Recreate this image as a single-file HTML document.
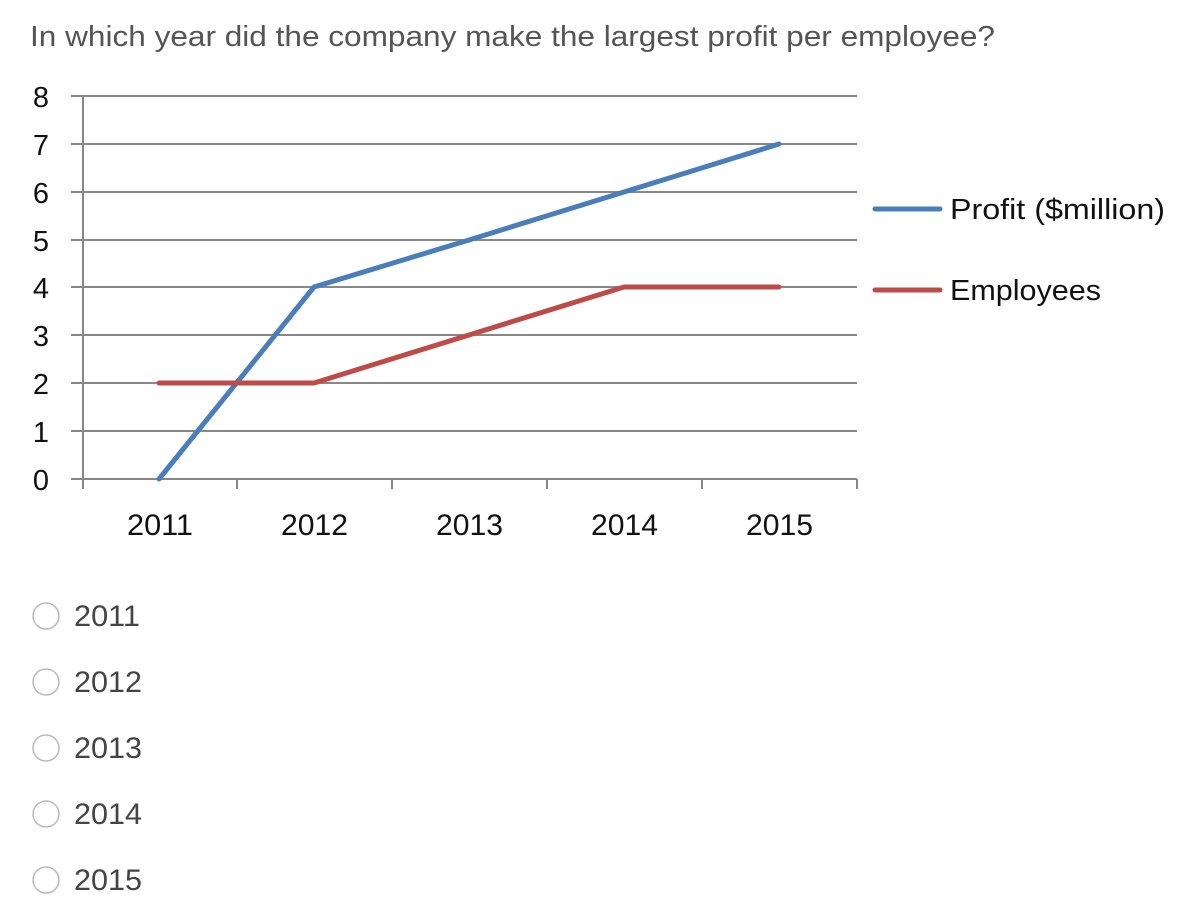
<!DOCTYPE html>
<html><head><style>
body{margin:0;background:#fff;width:1192px;height:918px;overflow:hidden;font-family:"Liberation Sans",sans-serif;}
</style></head><body>
<svg width="1192" height="918" xmlns="http://www.w3.org/2000/svg" style="position:absolute;left:0;top:0">
<text x="30" y="46" font-size="29" fill="#555" font-family="Liberation Sans, sans-serif" textLength="965" lengthAdjust="spacingAndGlyphs">In which year did the company make the largest profit per employee?</text>
<g stroke="#888" stroke-width="2">
<line x1="71" y1="96" x2="857" y2="96"/>
<line x1="71" y1="144" x2="857" y2="144"/>
<line x1="71" y1="192" x2="857" y2="192"/>
<line x1="71" y1="240" x2="857" y2="240"/>
<line x1="71" y1="287" x2="857" y2="287"/>
<line x1="71" y1="335" x2="857" y2="335"/>
<line x1="71" y1="383" x2="857" y2="383"/>
<line x1="71" y1="431" x2="857" y2="431"/>
<line x1="71" y1="479" x2="857" y2="479"/>
<line x1="83" y1="96" x2="83" y2="489"/>
<line x1="237" y1="479" x2="237" y2="489"/>
<line x1="392" y1="479" x2="392" y2="489"/>
<line x1="547" y1="479" x2="547" y2="489"/>
<line x1="702" y1="479" x2="702" y2="489"/>
<line x1="857" y1="479" x2="857" y2="489"/>
</g>
<g font-size="29" fill="#111" text-anchor="middle" font-family="Liberation Sans, sans-serif">
<text x="41" y="107">8</text><text x="41" y="155">7</text><text x="41" y="203">6</text>
<text x="41" y="251">5</text><text x="41" y="298">4</text><text x="41" y="346">3</text>
<text x="41" y="394">2</text><text x="41" y="442">1</text><text x="41" y="490">0</text>
</g>
<g font-size="30" fill="#111" font-family="Liberation Sans, sans-serif">
<text x="127" y="535" textLength="66" lengthAdjust="spacingAndGlyphs">2011</text>
<text x="281" y="535" textLength="67" lengthAdjust="spacingAndGlyphs">2012</text>
<text x="436" y="535" textLength="67" lengthAdjust="spacingAndGlyphs">2013</text>
<text x="591" y="535" textLength="67" lengthAdjust="spacingAndGlyphs">2014</text>
<text x="746" y="535" textLength="67" lengthAdjust="spacingAndGlyphs">2015</text>
</g>
<polyline points="159,479 314,287 469,240 624,192 779,144" fill="none" stroke="#4a7ebb" stroke-width="5" stroke-linecap="round" stroke-linejoin="round"/>
<polyline points="159,383 314,383 469,335 624,287 779,287" fill="none" stroke="#be4b48" stroke-width="5" stroke-linecap="round" stroke-linejoin="round"/>
<line x1="875" y1="209" x2="940" y2="209" stroke="#4a7ebb" stroke-width="5" stroke-linecap="round"/>
<line x1="875" y1="290" x2="940" y2="290" stroke="#be4b48" stroke-width="5" stroke-linecap="round"/>
<g font-size="29" fill="#111" font-family="Liberation Sans, sans-serif">
<text x="950" y="219" textLength="215" lengthAdjust="spacingAndGlyphs">Profit ($million)</text>
<text x="950" y="300" textLength="151" lengthAdjust="spacingAndGlyphs">Employees</text>
</g>
<g fill="#fff" stroke="#bbb" stroke-width="1.5">
<circle cx="46" cy="616" r="13"/><circle cx="46" cy="682" r="13"/><circle cx="46" cy="748" r="13"/>
<circle cx="46" cy="814" r="13"/><circle cx="46" cy="880" r="13"/>
</g>
<g font-size="30" fill="#444" font-family="Liberation Sans, sans-serif">
<text x="74" y="626" textLength="66" lengthAdjust="spacingAndGlyphs">2011</text>
<text x="74" y="692" textLength="68" lengthAdjust="spacingAndGlyphs">2012</text>
<text x="74" y="758" textLength="68" lengthAdjust="spacingAndGlyphs">2013</text>
<text x="74" y="824" textLength="68" lengthAdjust="spacingAndGlyphs">2014</text>
<text x="74" y="890" textLength="68" lengthAdjust="spacingAndGlyphs">2015</text>
</g>
</svg>
</body></html>
